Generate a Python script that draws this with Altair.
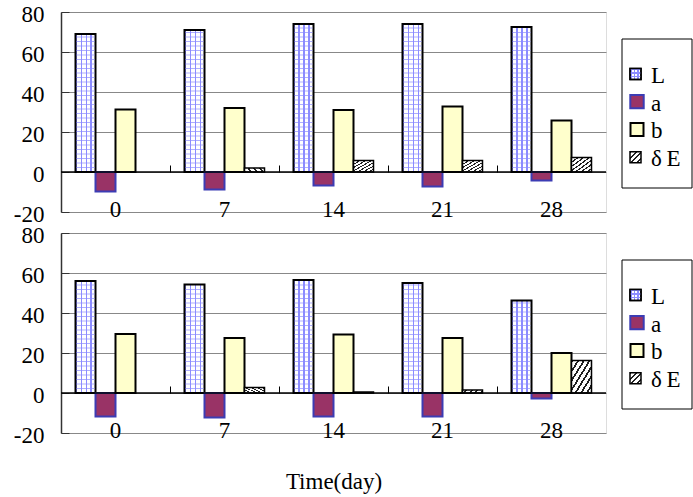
import altair as alt
import pandas as pd

# ---------------- data ----------------
days = ["0", "7", "14", "21", "28"]
series = ["L", "a", "b", "δE"]

top_L = [69.0, 71.0, 74.0, 74.0, 72.5]
top_a = [-9.7, -8.8, -6.7, -7.2, -4.3]
top_b = [31.2, 32.0, 31.0, 32.8, 25.7]
top_dE = [0.0, 2.0, 5.8, 5.8, 7.3]

bot_L = [56.0, 54.2, 56.5, 55.0, 46.2]
bot_a = [-11.7, -12.2, -11.7, -11.7, -2.7]
bot_b = [29.5, 27.5, 29.2, 27.5, 20.0]
bot_dE = [0.0, 2.8, 0.5, 1.5, 16.2]

y_ticks = [-20, 0, 20, 40, 60, 80]
legend_labels = ["L", "a", "b", "\u00a0δ\u2009E"]
x_title = "Time(day)"

# ---------------- style ----------------
FONT = "Liberation Serif"
FS = 23
PW, PH = 545, 200
LW = 70
BLUE = "#8C8CFF"
MAROON = "#993366"
A_STROKE = "#3C3CB4"
YELLOW = "#FFFFCC"
GRID_STEP = 2.25


def vstripe_grad(n=4, line=0.07):
    stops = []
    for i in range(n):
        s = i / n
        stops += [{"offset": s, "color": BLUE}, {"offset": s + line, "color": BLUE},
                  {"offset": s + line, "color": "white"}, {"offset": (i + 1) / n, "color": "white"}]
    return {"gradient": "linear", "x1": 0, "y1": 0, "x2": 1, "y2": 0, "stops": stops}


def hstripe_grad(n=3, line=0.09):
    stops = []
    for i in range(n):
        s = i / n
        stops += [{"offset": s, "color": BLUE}, {"offset": s + line, "color": BLUE},
                  {"offset": s + line, "color": "rgba(255,255,255,0)"},
                  {"offset": (i + 1) / n, "color": "rgba(255,255,255,0)"}]
    return {"gradient": "linear", "x1": 0, "y1": 0, "x2": 0, "y2": 1, "stops": stops}


def hatch_grad(n=7, line=0.35):
    stops = []
    for i in range(n):
        s = i / n
        m = s + line / n
        stops += [{"offset": s, "color": "#222222"}, {"offset": m, "color": "#222222"},
                  {"offset": m, "color": "white"}, {"offset": (i + 1) / n, "color": "white"}]
    return {"gradient": "linear", "x1": 0, "y1": 0, "x2": 1, "y2": 1, "stops": stops}


def make_df(L, a, b, dE):
    rows = []
    for s, vals in zip(series, [L, a, b, dE]):
        for d, v in zip(days, vals):
            rows.append({"day": d, "series": s, "value": v})
    return pd.DataFrame(rows)


def grid_df(L):
    rows = []
    for d, v in zip(days, L):
        k = 1
        while k * GRID_STEP < v - 0.6:
            rows.append({"day": d, "series": "L", "value": k * GRID_STEP})
            k += 1
    return pd.DataFrame(rows)


xscale = alt.Scale(domain=days, paddingInner=0, paddingOuter=0)
oscale = alt.Scale(domain=series, paddingInner=0, paddingOuter=0.725)
yscale = alt.Scale(domain=[-20, 80], nice=False)


def enc(xaxis=None, yaxis=None):
    return dict(
        x=alt.X("day:N", sort=days, scale=xscale, axis=xaxis),
        xOffset=alt.XOffset("series:N", sort=series, scale=oscale),
        y=alt.Y("value:Q", scale=yscale, axis=yaxis),
    )


def panel(L, a, b, dE, title):
    df = make_df(L, a, b, dE)
    base = alt.Chart(df)
    xaxis_kw = dict(orient="bottom", labelFont=FONT, labelFontSize=FS, labelColor="black",
                    labelAngle=0, ticks=False, domain=False, labelPadding=-3,
                    labelBaseline="middle", grid=False)
    if title:
        xaxis_kw.update(title=title, titleFont=FONT, titleFontSize=FS, titleFontWeight="normal",
                        titleColor="black", titlePadding=28)
    else:
        xaxis_kw.update(title=None)
    xaxis_main = alt.Axis(**xaxis_kw)
    yaxis_main = alt.Axis(orient="left", values=y_ticks, title=None, labelFont=FONT,
                          labelFontSize=FS, labelColor="black", ticks=False,
                          labelExpr="'' + datum.value",
                          domainColor="#333333", domainWidth=1.5, grid=True,
                          gridColor="#888888", gridWidth=1, labelPadding=17, labelOffset=2)
    xaxis_ticks = alt.Axis(orient="top", offset=-160, labels=False, domain=False, ticks=True,
                           tickSize=7, tickColor="black", tickWidth=1, bandPosition=0,
                           grid=False, title=None)
    yaxis_ticks = alt.Axis(orient="right", offset=-PW, values=y_ticks, labels=False,
                           domain=False, ticks=True, tickSize=8, tickColor="#333333",
                           grid=False, title=None)

    L_bar = base.transform_filter(alt.datum.series == "L").mark_bar(
        fill=vstripe_grad(), stroke="black", strokeWidth=2
    ).encode(**enc(xaxis_main, yaxis_main))
    L_grid = alt.Chart(grid_df(L)).mark_tick(
        orient="horizontal", color=BLUE, thickness=1, size=18
    ).encode(**enc())
    a_bar = base.transform_filter(alt.datum.series == "a").mark_bar(
        fill=MAROON, stroke=A_STROKE, strokeWidth=2
    ).encode(**enc())
    b_bar = base.transform_filter(alt.datum.series == "b").mark_bar(
        fill=YELLOW, stroke="black", strokeWidth=2
    ).encode(**enc(xaxis_ticks, yaxis_ticks))
    dE_bar = base.transform_filter((alt.datum.series == "δE") & (alt.datum.value > 0)).mark_bar(
        fill=hatch_grad(), stroke="black", strokeWidth=1.5
    ).encode(**enc())
    zero = alt.Chart(pd.DataFrame({"zero": [0]})).mark_rule(color="black", strokeWidth=1.5).encode(
        y=alt.Y("zero:Q", scale=yscale, axis=None)
    )
    return alt.layer(L_bar, L_grid, a_bar, b_bar, dE_bar, zero).resolve_axis(
        x="independent", y="independent"
    ).properties(width=PW, height=PH)


def legend_chart():
    ldf = pd.DataFrame({"label": legend_labels})
    ly = alt.Y("label:N", sort=legend_labels,
               scale=alt.Scale(type="point", domain=legend_labels, range=[48, 159]), axis=None)
    frame = alt.Chart(pd.DataFrame({"f": [0]})).mark_rect(
        fill="white", stroke="black", strokeWidth=1
    ).encode(x=alt.value(0), x2=alt.value(LW), y=alt.value(27), y2=alt.value(176))
    b = alt.Chart(ldf)
    sL1 = b.transform_filter(alt.datum.label == "L").mark_square(
        size=121, fill=vstripe_grad(3, 0.14), stroke="black", strokeWidth=1.5, opacity=1
    ).encode(x=alt.value(13.5), y=ly)
    sL2 = b.transform_filter(alt.datum.label == "L").mark_square(
        size=121, fill=hstripe_grad(3, 0.14), stroke="black", strokeWidth=1.5, opacity=1
    ).encode(x=alt.value(13.5), y=ly)
    sa = b.transform_filter(alt.datum.label == "a").mark_square(
        size=180, fill=MAROON, stroke=A_STROKE, strokeWidth=2, opacity=1
    ).encode(x=alt.value(15), y=ly)
    sb = b.transform_filter(alt.datum.label == "b").mark_square(
        size=169, fill=YELLOW, stroke="black", strokeWidth=2, opacity=1
    ).encode(x=alt.value(15), y=ly)
    sd = b.transform_filter(alt.datum.label == legend_labels[3]).mark_square(
        size=121, fill=hatch_grad(4, 0.35), stroke="black", strokeWidth=1.5, opacity=1
    ).encode(x=alt.value(13.5), y=ly)
    txt = b.mark_text(font=FONT, fontSize=FS, color="black", align="left", baseline="middle",
                      dy=2).encode(x=alt.value(29), y=ly, text="label:N")
    return alt.layer(frame, sL1, sL2, sa, sb, sd, txt).properties(
        width=LW, height=PH, view=alt.ViewBackground(stroke="transparent")
    )


top = panel(top_L, top_a, top_b, top_dE, None)
bot = panel(bot_L, bot_a, bot_b, bot_dE, x_title)

chart = alt.concat(
    top, legend_chart(), bot, legend_chart(),
    columns=2, spacing={"row": 21, "column": 16}, bounds="flush",
).properties(
    padding={"left": 12, "top": 2, "right": 0, "bottom": 0}
).configure_view(stroke="#808080", strokeWidth=1).configure(background="white")

chart.save("out.html", embed_options={"renderer": "svg", "actions": False})
